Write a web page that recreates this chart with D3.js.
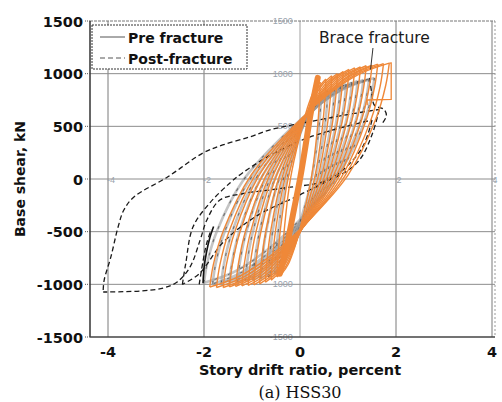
<!DOCTYPE html>
<html>
<head>
<meta charset="utf-8">
<script src="https://cdn.jsdelivr.net/npm/d3@7"></script>
<style>
  body { margin: 0; background: #fff; }
  svg { display: block; }
</style>
</head>
<body>
<svg id="chart" width="502" height="402"></svg>
<script>
/* Base shear vs story drift hysteresis, HSS30 brace */

const driftTicks = [-4, -2, 0, 2, 4];
const shearTicks = [-1500, -1000, -500, 0, 500, 1000, 1500];
const gridShear  = [-1000, -500, 0, 500, 1000];

// model (orange) cycles: negative and positive peaks
const orangeNegDrift = [-1.88, -1.74, -1.60, -1.47, -1.34, -1.21, -1.08, -0.96, -0.84, -0.72, -0.60, -0.48, -0.38];
const orangeNegShear = [-1025, -1030, -1030, -1025, -1020, -1015, -1010, -1005, -995, -980, -960, -930, -900];
const orangePosDrift = [1.86, 1.74, 1.62, 1.50, 1.38, 1.26, 1.14, 1.02, 0.90, 0.78, 0.66, 0.54, 0.42];
const orangePosShear = [1100, 1095, 1090, 1080, 1075, 1065, 1055, 1040, 1020, 1000, 980, 950, 920];

// test, pre fracture cycles
const preNegDrift = [-2.00, -1.82, -1.64, -1.47, -1.30, -1.14, -0.98, -0.82, -0.66, -0.52];
const preNegShear = [-985, -995, -990, -985, -980, -970, -960, -950, -930, -900];
const prePosDrift = [1.55, 1.44, 1.32, 1.20, 1.08, 0.96, 0.84, 0.72, 0.58, 0.44];
const prePosShear = [960, 950, 940, 930, 915, 900, 880, 860, 840, 800];

// branch shape (fraction of height, fraction of width)
const loopRise = [0, 0.10, 0.25, 0.50, 0.72, 0.86, 0.95, 1];
const loopRun  = [0, 0.02, 0.075, 0.23, 0.47, 0.66, 0.83, 1];

// small elastic cycles, drawn as one thick band
const elasticBand = [[-0.42, -900], [-0.30, -690], [-0.13, -300], [0.0, 0], [0.11, 300], [0.23, 640], [0.37, 960]];

// model after fracture
const orangeFracture = [[1.86, 1100], [1.90, 1102], [1.90, 755], [1.40, 750], [1.40, 700]];

// test, post-fracture
const postLoopA = [[-4.10, -1054], [-4.08, -960], [-3.94, -740], [-3.79, -456], [-3.67, -294], [-3.46, -171],
  [-2.76, 19], [-2.02, 247], [-1.61, 323], [-1.05, 399], [-0.64, 465], [-0.16, 513], [0.50, 570], [1.10, 620], [1.65, 660]];
const postLoopAdown = [[1.65, 660], [1.50, 420], [1.20, 160], [0.60, -10], [-0.40, -90], [-1.20, -140], [-1.67, -200],
  [-1.94, -389], [-2.08, -579], [-2.29, -835], [-2.56, -978], [-2.85, -1035], [-3.32, -1063], [-4.10, -1073]];
const postLoopB = [[-2.45, -1000], [-2.38, -800], [-2.23, -456], [-1.88, -228], [-1.46, -38], [-1.20, 57],
  [-0.60, 230], [0.10, 380], [0.80, 480], [1.50, 560]];
const postLoopBdown = [[1.50, 560], [1.30, 300], [0.80, 50], [0.0, -150], [-0.90, -350], [-1.60, -600], [-2.10, -900], [-2.45, -1000]];
const postTip = [[-2.10, -1000], [-2.02, -780], [-1.95, -620], [-1.85, -480]];
const postDrop = [[1.45, 960], [1.50, 800], [1.55, 700], [1.75, 660], [1.80, 600], [1.70, 520]];
const preDark = [[-2.02, -990], [-2.00, -850], [-1.95, -700], [-1.88, -560], [-1.80, -450]];

const svg = d3.select("#chart");
const x = d3.scaleLinear().domain([-4.375, 4.0625]).range([90, 495]);
const y = d3.scaleLinear().domain([-1500, 1500]).range([337, 21]);

const bold = "'DejaVu Sans', sans-serif";
const line = d3.line().x(d => x(d[0])).y(d => y(d[1])).curve(d3.curveCatmullRom.alpha(0.5));
const poly = d3.line().x(d => x(d[0])).y(d => y(d[1]));

function branches(d0, f0, d1, f1) {
  const W = d1 - d0, H = f1 - f0;
  const up   = loopRise.map((h, i) => [d0 + loopRun[i] * W, f0 + h * H]);
  const down = loopRise.map((h, i) => [d1 - loopRun[i] * W, f1 - h * H]);
  return [up, down];
}

/* ---------- grid + frame ---------- */
const grid = svg.append("g");
grid.selectAll(".gv").data(driftTicks).join("line")
  .attr("x1", d => x(d)).attr("x2", d => x(d))
  .attr("y1", y(1500)).attr("y2", y(-1500))
  .attr("stroke", d => (d === 0 ? "#a0a0a0" : "#7a7a7a")).attr("stroke-width", 1);
grid.selectAll(".gh").data(gridShear).join("line")
  .attr("x1", x.range()[0]).attr("x2", x.range()[1])
  .attr("y1", d => y(d)).attr("y2", d => y(d))
  .attr("stroke", "#8c8c8c").attr("stroke-width", 1);
grid.append("line").attr("x1", x.range()[0]).attr("x2", x.range()[1])
  .attr("y1", y(1500)).attr("y2", y(1500)).attr("stroke", "#777").attr("stroke-dasharray", "3,1");
grid.append("line").attr("x1", x.range()[1]).attr("x2", x.range()[1])
  .attr("y1", y(1500)).attr("y2", y(-1500)).attr("stroke", "#999").attr("stroke-dasharray", "2,2");

// faint labels of the overlaid chart
const ghost = svg.append("g").attr("fill", "#9aa3ad").attr("font-family", "'Liberation Sans', sans-serif").attr("font-size", 9);
ghost.selectAll("text.gy").data([1500, 1000, 500, -1000, -1500]).join("text")
  .attr("x", x(-0.15)).attr("y", d => y(d) + 3).attr("text-anchor", "end").text(d => d);
ghost.selectAll("text.gx").data([-4, -2, 2, 4]).join("text")
  .attr("x", d => x(d) + 3).attr("y", y(0) + 4).attr("text-anchor", "middle").text(d => d);

/* ---------- pre fracture test loops (grey) ---------- */
const gPre = svg.append("g").attr("fill", "none");
preNegDrift.forEach((d0, i) => {
  const [up, down] = branches(d0, preNegShear[i], prePosDrift[i], prePosShear[i]);
  [up, down].forEach(b => {
    gPre.append("path").attr("d", line(b)).attr("stroke", "#9c9c9c").attr("stroke-width", 2.6).attr("opacity", 0.6);
    gPre.append("path").attr("d", line(b)).attr("stroke", "#2a2a2a").attr("stroke-width", 1.1)
      .attr("stroke-dasharray", "3,11").attr("opacity", 0.55);
  });
});

/* ---------- post-fracture (dashed), under the model lines ---------- */
const gPost = svg.append("g").attr("fill", "none").attr("stroke", "#1a1a1a").attr("stroke-width", 1.3)
  .attr("stroke-dasharray", "5,3");
[postLoopA, postLoopAdown, postLoopB, postLoopBdown, postTip, postDrop].forEach(p => {
  gPost.append("path").attr("d", line(p));
});

/* ---------- model loops (orange) ---------- */
const orange = "#ef8838";
const gMod = svg.append("g").attr("fill", "none").attr("stroke", orange);
orangeNegDrift.forEach((d0, i) => {
  const [up, down] = branches(d0, orangeNegShear[i], orangePosDrift[i], orangePosShear[i]);
  gMod.append("path").attr("d", line(up)).attr("stroke-width", 1.4);
  gMod.append("path").attr("d", line(down)).attr("stroke-width", 1.4);
});
gMod.append("path").attr("d", line(elasticBand)).attr("stroke-width", 6).attr("stroke-linecap", "round");
gMod.append("path").attr("d", poly(orangeFracture)).attr("stroke-width", 1.3);

svg.append("path").attr("d", line(preDark)).attr("fill", "none").attr("stroke", "#111").attr("stroke-width", 1.6);

/* ---------- axes ---------- */
svg.append("line").attr("x1", x.range()[0]).attr("x2", x.range()[0]).attr("y1", y(1500)).attr("y2", y(-1500))
  .attr("stroke", "#333").attr("stroke-width", 1.5);
svg.append("line").attr("x1", x.range()[0]).attr("x2", x.range()[1]).attr("y1", y(-1500)).attr("y2", y(-1500))
  .attr("stroke", "#444").attr("stroke-width", 1.5);

const yAx = svg.append("g").attr("font-family", bold).attr("font-weight", "bold").attr("font-size", 14.5).attr("fill", "#111");
yAx.selectAll("line").data(shearTicks).join("line")
  .attr("x1", x.range()[0] - 5).attr("x2", x.range()[0]).attr("y1", d => y(d)).attr("y2", d => y(d))
  .attr("stroke", "#555").attr("stroke-dasharray", "1,1");
yAx.selectAll("text").data(shearTicks).join("text")
  .attr("x", x.range()[0] - 7).attr("y", d => y(d) + 5.5).attr("text-anchor", "end").text(d => d);

const xAx = svg.append("g").attr("font-family", bold).attr("font-weight", "bold").attr("font-size", 14.5).attr("fill", "#111");
xAx.selectAll("text").data(driftTicks).join("text")
  .attr("x", d => x(d)).attr("y", y(-1500) + 20).attr("text-anchor", "middle").text(d => d);

svg.append("text").attr("x", x(0)).attr("y", 375).attr("text-anchor", "middle")
  .attr("font-family", bold).attr("font-weight", "bold").attr("font-size", 14.5).attr("fill", "#111")
  .text("Story drift ratio, percent");
svg.append("text").attr("transform", `translate(25,${y(0)}) rotate(-90)`).attr("text-anchor", "middle")
  .attr("font-family", bold).attr("font-weight", "bold").attr("font-size", 14).attr("fill", "#111")
  .text("Base shear, kN");
svg.append("text").attr("x", x(0)).attr("y", 398).attr("text-anchor", "middle")
  .attr("font-family", "'DejaVu Serif', serif").attr("font-size", 16).attr("fill", "#111")
  .text("(a) HSS30");

/* ---------- legend ---------- */
const lg = svg.append("g");
lg.append("rect").attr("x", 92).attr("y", 25).attr("width", 155).attr("height", 44)
  .attr("fill", "#fff").attr("stroke", "#333").attr("stroke-dasharray", "2,1");
lg.append("line").attr("x1", 100).attr("x2", 125).attr("y1", 37).attr("y2", 37).attr("stroke", "#555");
lg.append("line").attr("x1", 100).attr("x2", 125).attr("y1", 58).attr("y2", 58).attr("stroke", "#555").attr("stroke-dasharray", "5,3");
lg.append("text").attr("x", 128).attr("y", 43).attr("font-family", bold).attr("font-weight", "bold").attr("font-size", 14)
  .attr("fill", "#111").text("Pre fracture");
lg.append("text").attr("x", 128).attr("y", 64).attr("font-family", bold).attr("font-weight", "bold").attr("font-size", 14)
  .attr("fill", "#111").text("Post-fracture");

/* ---------- annotation ---------- */
svg.append("text").attr("x", x(1.55)).attr("y", 43).attr("text-anchor", "middle")
  .attr("font-family", bold).attr("font-size", 15.5).attr("fill", "#1a1a1a").text("Brace fracture");
svg.append("line").attr("x1", x(1.52)).attr("y1", 48).attr("x2", x(1.47)).attr("y2", y(1040))
  .attr("stroke", "#333").attr("stroke-width", 1);
</script>
</body>
</html>
